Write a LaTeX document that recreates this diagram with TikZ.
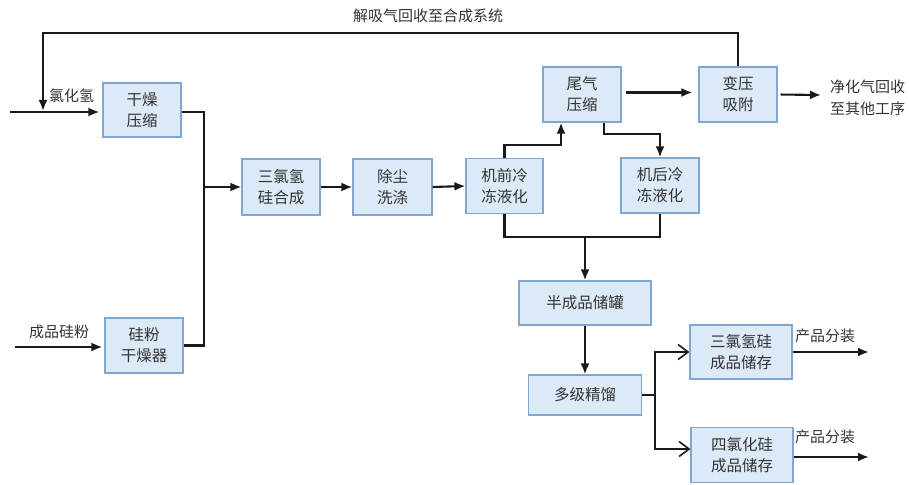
\documentclass[tikz,border=0pt]{standalone}
\usepackage{fontspec}
\newfontfamily\cjk{Noto Sans CJK SC}
\usetikzlibrary{arrows.meta}
\definecolor{boxfill}{HTML}{DCE9F6}
\definecolor{boxedge}{HTML}{7FA7D0}
\definecolor{txt}{HTML}{333333}
\begin{document}
\begin{tikzpicture}[x=1pt,y=-1pt,
  box/.style={draw=boxedge, fill=boxfill, line width=1.2pt, inner sep=0pt, align=center,
              text=txt, font=\cjk\fontsize{15.5}{21}\selectfont},
  lbl/.style={text=txt, font=\cjk\fontsize{15}{22}\selectfont, inner sep=0pt, align=left},
  flow/.style={line width=2.1pt, black!90},
  arr/.style={flow, -{Latex[length=11pt,width=9pt]}},
  oarr/.style={flow, -{Straight Barb[length=10pt,width=15pt,line width=1.6pt]}}]
\useasboundingbox (0,0) rectangle (909,484);

% boxes
\node[box, minimum width=78, minimum height=54] (dry)   at (142,110)   {干燥\\压缩};
\node[box, minimum width=78, minimum height=56] (syn)   at (281,187)   {三氯氢\\硅合成};
\node[box, minimum width=79, minimum height=56] (dust)  at (392.5,187) {除尘\\洗涤};
\node[box, minimum width=77, minimum height=55] (pre)   at (504.5,186) {机前冷\\冻液化};
\node[box, minimum width=78, minimum height=55] (tail)  at (582,94.5)  {尾气\\压缩};
\node[box, minimum width=78, minimum height=55] (psa)   at (738,94.5)  {变压\\吸附};
\node[box, minimum width=78, minimum height=55] (post)  at (660,185.5) {机后冷\\冻液化};
\node[box, minimum width=78, minimum height=55] (sidry) at (144,345.5) {硅粉\\干燥器};
\node[box, minimum width=132, minimum height=44] (tank) at (585,303)   {半成品储罐};
\node[box, minimum width=113, minimum height=40] (dist) at (585,395)   {多级精馏};
\node[box, minimum width=102, minimum height=54] (tcs)  at (741,352)   {三氯氢硅\\成品储存};
\node[box, minimum width=102, minimum height=55] (stc)  at (742,455)   {四氯化硅\\成品储存};

% labels
\node[lbl] (ltop)  at (428,16)  {解吸气回收至合成系统};
\node[lbl, anchor=west] (lhcl) at (49,96) {氯化氢};
\node[lbl, anchor=west] (lsi)  at (29,332) {成品硅粉};
\node[lbl, anchor=west] (lout) at (830,98) {净化气回收\\至其他工序};
\node[lbl, anchor=west] (lp1)  at (795,336) {产品分装};
\node[lbl, anchor=west] (lp2)  at (795,437) {产品分装};

% coordinates
\coordinate (hclin) at (10,112);
\coordinate (fb1) at (738,33);
\coordinate (fb2) at (43,33);
\coordinate (fb3) at (43,111);
\coordinate (jv)  at (204,187);
\coordinate (jt)  at (204,112);
\coordinate (jb)  at (204,345.5);
\coordinate (k1)  at (561,145);
\coordinate (k2)  at (604,134);
\coordinate (k3)  at (585,237);
\coordinate (out1) at (821,95);
\coordinate (b0)  at (655,395);
\coordinate (b2)  at (655,449);
\coordinate (p1)  at (869,352);
\coordinate (p2)  at (869,457);
\coordinate (siin) at (15,347);

% connectors
\draw[arr, shorten >=3pt] (hclin) -- (hclin -| dry.west);
\draw[arr] (psa.north) -- (fb1) -- (fb2) -- (fb3);
\draw[flow] (dry.east |- jt) -- (jt) -- (jb) -- (sidry.east);
\draw[arr] (jv) -- (syn.west);
\draw[arr] (syn.east) -- (dust.west);
\draw[arr] (dust.east) -- (pre.west);
\draw[arr] (pre.north) |- (k1) -- (k1 |- tail.south);
\draw[arr] (k2 |- tail.south) -- (k2) -| (post.north);
\draw[arr, shorten <=4pt, shorten >=6pt] ([yshift=2pt]tail.east) -- ([yshift=2pt]psa.west);
\draw[arr, shorten <=3pt] (psa.east) -- (out1);
\draw[flow] (pre.south) |- (k3) -| (post.south);
\draw[arr] (k3) -- (tank.north);
\draw[arr] (tank.south) -- (dist.north);
\draw[oarr] (dist.east) -- (b0) |- (tcs.west);
\draw[oarr] (b0) |- (b2) -- (b2 -| stc.west);
\draw[arr] (tcs.east) -- (p1);
\draw[arr] (stc.east |- p2) -- (p2);
\draw[arr, shorten >=2pt] (siin) -- (siin -| sidry.west);
\end{tikzpicture}
\end{document}
